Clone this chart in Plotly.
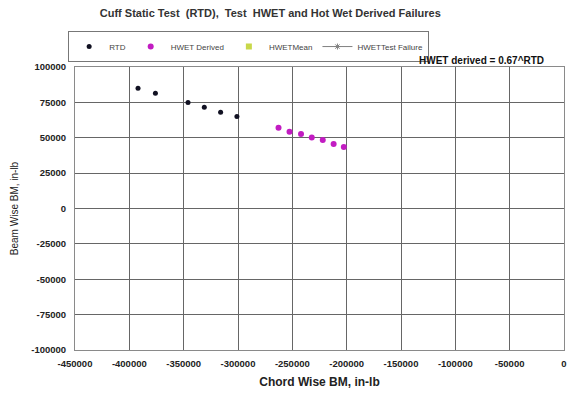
import plotly.graph_objects as go

# Room-temperature-dry (RTD) cuff failures, chord-wise vs beam-wise bending moment
rtd_chord = [-392000, -376000, -346000, -331000, -316000, -301000]
rtd_beam = [85000, 81500, 75000, 71500, 68000, 65000]

# Hot/wet derived failure points
hwet_chord = [-262700, -252600, -242000, -232100, -222000, -212000, -202600]
hwet_beam = [57100, 54300, 52600, 50100, 48400, 45500, 43400]

x_ticks = [-450000, -400000, -350000, -300000, -250000, -200000,
           -150000, -100000, -50000, 0]
y_ticks = [100000, 75000, 50000, 25000, 0, -25000, -50000, -75000, -100000]

FONT = "Liberation Sans, Arial, sans-serif"

fig = go.Figure()
fig.add_trace(go.Scatter(
    x=rtd_chord, y=rtd_beam, mode="markers", name="RTD",
    marker=dict(color="#111122", size=5, symbol="circle")))
fig.add_trace(go.Scatter(
    x=hwet_chord, y=hwet_beam, mode="markers", name="HWET Derived",
    marker=dict(color="#c21cc2", size=6, symbol="circle")))
fig.add_trace(go.Scatter(
    x=[None], y=[None], mode="markers", name="HWETMean",
    marker=dict(color="#c8d84a", size=6, symbol="square")))
fig.add_trace(go.Scatter(
    x=[None], y=[None], mode="lines+markers", name="HWETTest Failure",
    line=dict(color="#808080", width=1),
    marker=dict(color="#808080", size=5, symbol="asterisk-open")))

axis_common = dict(
    showgrid=True, gridcolor="#666666", gridwidth=1,
    showline=True, linecolor="#8a8a8a", linewidth=1, mirror=True,
    zeroline=False, ticks="", ticklabeloverflow="allow",
    tickfont=dict(family=FONT, size=9.5, color="#222"),
)

fig.update_layout(
    width=569, height=393,
    margin=dict(l=75, r=2, t=67, b=43),
    paper_bgcolor="white", plot_bgcolor="white",
    font=dict(family=FONT, color="#222"),
    title=dict(
        text="<b>Cuff Static Test  (RTD),  Test  HWET and Hot Wet Derived Failures</b>",
        x=0.475, xanchor="center", y=0.967, yanchor="middle",
        font=dict(family=FONT, size=11, color="#333")),
    xaxis=dict(range=[-450000, 0], tickvals=x_ticks,
               ticktext=[f"<b>{v}</b>" for v in x_ticks],
               ticklabelstandoff=5,
               title=dict(text="<b>Chord Wise BM, in-lb</b>", standoff=9,
                          font=dict(family=FONT, size=12, color="#222")),
               **axis_common),
    yaxis=dict(range=[-100000, 100000], tickvals=y_ticks,
               ticktext=[f"<b>{v}</b>" for v in y_ticks],
               ticklabelstandoff=6,
               title=dict(text="Beam Wise BM, in-lb", standoff=10,
                          font=dict(family=FONT, size=10, color="#222")),
               **axis_common),
    legend=dict(
        orientation="h", x=-0.014, y=1.127, xanchor="left", yanchor="top",
        bgcolor="white", bordercolor="#777", borderwidth=1,
        font=dict(family=FONT, size=8, color="#444"),
        itemwidth=30, tracegroupgap=0),
    showlegend=True,
)

fig.add_annotation(
    text="<b>HWET derived = 0.67^RTD</b>",
    xref="paper", yref="paper", x=0.963, y=0.995,
    xanchor="right", yanchor="bottom", showarrow=False,
    font=dict(family=FONT, size=10, color="#111"))

fig.write_html("out.html")
